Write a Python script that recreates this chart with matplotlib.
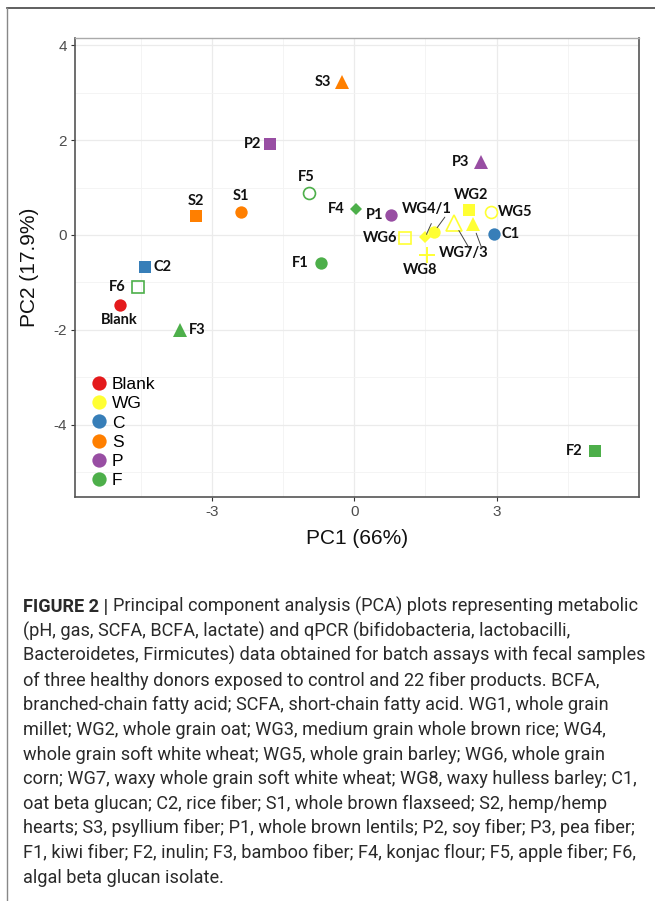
import matplotlib
matplotlib.use('Agg')
import matplotlib.pyplot as plt
from matplotlib.lines import Line2D

plt.rcParams['axes.unicode_minus'] = False

# PCA scores
names = ['Blank', 'WG1', 'WG2', 'WG3', 'WG4', 'WG5', 'WG6', 'WG7', 'WG8',
         'C1', 'C2', 'S1', 'S2', 'S3', 'P1', 'P2', 'P3',
         'F1', 'F2', 'F3', 'F4', 'F5', 'F6']
groups = ['Blank', 'WG', 'WG', 'WG', 'WG', 'WG', 'WG', 'WG', 'WG',
          'C', 'C', 'S', 'S', 'S', 'P', 'P', 'P',
          'F', 'F', 'F', 'F', 'F', 'F']
pc1 = [-4.94, 1.68, 2.41, 2.50, 1.50, 2.88, 1.08, 2.11, 1.53,
       2.95, -4.41, -2.38, -3.33, -0.25, 0.77, -1.77, 2.67,
       -0.70, 5.07, -3.66, 0.04, -0.95, -4.56]
pc2 = [-1.47, 0.06, 0.53, 0.23, -0.04, 0.48, -0.06, 0.26, -0.42,
       0.03, -0.67, 0.49, 0.39, 3.22, 0.43, 1.92, 1.54,
       -0.60, -4.56, -2.00, 0.55, 0.88, -1.10]
shape_ids = [1, 1, 2, 3, 4, 5, 6, 7, 8,
             1, 2, 1, 2, 3, 1, 2, 3,
             1, 2, 3, 4, 5, 6]

group_names = ['Blank', 'WG', 'C', 'S', 'P', 'F']
group_colors = {'Blank': '#E41A1C', 'WG': '#FFFF33', 'C': '#377EB8',
                'S': '#FF7F00', 'P': '#984EA3', 'F': '#4DAF4A'}

caption_bold = 'FIGURE 2 |'
caption_lines = [
    'Principal component analysis (PCA) plots representing metabolic',
    '(pH, gas, SCFA, BCFA, lactate) and qPCR (bifidobacteria, lactobacilli,',
    'Bacteroidetes, Firmicutes) data obtained for batch assays with fecal samples',
    'of three healthy donors exposed to control and 22 fiber products. BCFA,',
    'branched-chain fatty acid; SCFA, short-chain fatty acid. WG1, whole grain',
    'millet; WG2, whole grain oat; WG3, medium grain whole brown rice; WG4,',
    'whole grain soft white wheat; WG5, whole grain barley; WG6, whole grain',
    'corn; WG7, waxy whole grain soft white wheat; WG8, waxy hulless barley; C1,',
    'oat beta glucan; C2, rice fiber; S1, whole brown flaxseed; S2, hemp/hemp',
    'hearts; S3, psyllium fiber; P1, whole brown lentils; P2, soy fiber; P3, pea fiber;',
    'F1, kiwi fiber; F2, inulin; F3, bamboo fiber; F4, konjac flour; F5, apple fiber; F6,',
    'algal beta glucan isolate.',
]

# marker style per shape number (ggplot 16, 15, 17, 18, 1, 0, 2, 3)
shape_styles = {
    1: dict(marker='o', ms=8.9, open=False),
    2: dict(marker='s', ms=8.4, open=False),
    3: dict(marker='^', ms=10.5, open=False),
    4: dict(marker='D', ms=6.0, open=False),
    5: dict(marker='o', ms=8.6, open=True),
    6: dict(marker='s', ms=8.2, open=True),
    7: dict(marker='^', ms=11.5, open=True),
    8: dict(marker='+', ms=12, open=True),
}

# label offsets in points from the point
label_offsets = {
    'Blank': (0, -11), 'S3': (-14, 0), 'P2': (-12.5, 0), 'F5': (-2, 11.5),
    'S2': (0, 11.5), 'S1': (0, 11), 'C2': (13, 0), 'F1': (-15, 0),
    'F4': (-14, 0), 'P1': (-11.5, 0), 'P3': (-14.5, 0), 'WG2': (1.5, 10.5),
    'WG5': (17.5, 0), 'C1': (11.5, 0), 'WG6': (-18, 0), 'WG8': (-5, -11),
    'F6': (-15, 0), 'F3': (12, 0), 'F2': (-14.5, 0),
}

fig = plt.figure(figsize=(6.55, 9.01), dpi=100)
ax = fig.add_axes([0.1145, 0.4484, 0.861, 0.5094])

for i, name in enumerate(names):
    st = shape_styles[shape_ids[i]]
    col = group_colors[groups[i]]
    if st['marker'] == '+':
        ax.plot(pc1[i], pc2[i], marker='+', ms=st['ms'], color=col, mew=1.4,
                linestyle='none', zorder=3)
    elif st['open']:
        ax.plot(pc1[i], pc2[i], marker=st['marker'], ms=st['ms'], mfc='none',
                mec=col, mew=1.2, linestyle='none', zorder=3)
    else:
        ax.plot(pc1[i], pc2[i], marker=st['marker'], ms=st['ms'], color=col,
                mec=col, mew=0, linestyle='none', zorder=3)

lab_font = dict(family='Lato', fontweight='bold', fontsize=10.5, color='#111111')
for name, (dx, dy) in label_offsets.items():
    i = names.index(name)
    ax.annotate(name, (pc1[i], pc2[i]), xytext=(dx, dy), textcoords='offset points',
                ha='center', va='center', **lab_font)

# repelled labels with leader lines
line_kw = dict(arrowstyle='-', color='#444444', lw=0.7)
i4, i1 = names.index('WG4'), names.index('WG1')
ax.annotate('WG4/1', (pc1[i4], pc2[i4]), xytext=(1, 20), textcoords='offset points',
            ha='center', va='center', **lab_font)
ax.annotate('', (pc1[i4], pc2[i4]), xytext=(4.3, 9.6), textcoords='offset points',
            arrowprops=dict(shrinkA=0, shrinkB=2, **line_kw))
ax.annotate('', (pc1[i1], pc2[i1]), xytext=(7.9, 10.8), textcoords='offset points',
            arrowprops=dict(shrinkA=0, shrinkB=4, **line_kw))
i7, i3 = names.index('WG7'), names.index('WG3')
ax.annotate('WG7/3', (pc1[i7], pc2[i7]), xytext=(6.7, -22), textcoords='offset points',
            ha='center', va='center', **lab_font)
ax.annotate('', (pc1[i7], pc2[i7]), xytext=(11.5, -19.7), textcoords='offset points',
            arrowprops=dict(shrinkA=0, shrinkB=6.5, **line_kw))
ax.annotate('', (pc1[i3], pc2[i3]), xytext=(6.5, -17.5), textcoords='offset points',
            arrowprops=dict(shrinkA=0, shrinkB=7, **line_kw))

ax.set_xlim(-5.88, 6.0)
ax.set_ylim(-5.52, 4.15)
ax.set_xticks([-3, 0, 3])
ax.set_yticks([-4, -2, 0, 2, 4])
ax.set_xticks([-4.5, -1.5, 1.5, 4.5], minor=True)
ax.set_yticks([-5, -3, -1, 1, 3], minor=True)
ax.grid(which='major', color='#EBEBEB', lw=0.9)
ax.grid(which='minor', color='#F3F3F3', lw=0.6)
ax.set_axisbelow(True)
ax.tick_params(which='minor', length=0)
ax.tick_params(which='major', length=3, width=0.8, color='#333333',
               labelcolor='#4D4D4D', labelsize=11, pad=3)
for lab in ax.get_xticklabels() + ax.get_yticklabels():
    lab.set_family('Liberation Sans')
for side in ['left', 'bottom', 'right']:
    ax.spines[side].set_color('#555555')
    ax.spines[side].set_linewidth(1.2)
ax.spines['top'].set_color('#AAAAAA')
ax.spines['top'].set_linewidth(1.0)

ax.set_xlabel('PC1 (66%)', fontsize=15, family='Liberation Sans', color='#111111')
ax.set_ylabel('PC2 (17.9%)', fontsize=15, family='Liberation Sans', color='#111111')
ax.xaxis.set_label_coords(0.5, -0.0915)
ax.xaxis.label.set_verticalalignment('center')
ax.yaxis.set_label_coords(-0.0798, 0.5)
ax.yaxis.label.set_verticalalignment('center')

handles = [Line2D([], [], marker='o', linestyle='none', ms=10.3,
                  color=group_colors[g], mew=0) for g in group_names]
ax.legend(handles, group_names, loc='upper left', bbox_to_anchor=(0.027, 0.262),
          frameon=False, borderpad=0, borderaxespad=0, labelspacing=0.24,
          handlelength=1.0, handletextpad=0.25,
          prop=dict(family='Liberation Sans', size=12.5))

# figure frame
fig.add_artist(Line2D([7 / 655, 1], [1 - 8 / 901, 1 - 8 / 901],
                      transform=fig.transFigure, color='#444444', lw=1.2))
fig.add_artist(Line2D([7 / 655, 7 / 655], [0, 1 - 8 / 901],
                      transform=fig.transFigure, color='#888888', lw=1.0))

# caption, fitted to the width of the first line
renderer = fig.canvas.get_renderer()
cap_color = '#2A2A2A'
x0 = 23 / 655
target_w = 614
fs = 12
tb = fig.text(x0, 0, caption_bold + ' ', fontsize=fs, fontweight='bold', family='Roboto')
tr = fig.text(0, 0, caption_lines[0], fontsize=fs, family='Roboto')
w = tb.get_window_extent(renderer).width + tr.get_window_extent(renderer).width
tb.remove()
tr.remove()
fs = fs * target_w / w

y_first = 1 - 612 / 901
dy = 24.6 / 901
tb = fig.text(x0, y_first, caption_bold + ' ', fontsize=fs, fontweight='bold',
              family='Roboto', color=cap_color, va='baseline')
bw = tb.get_window_extent(renderer).width / 655
for k, line in enumerate(caption_lines):
    xs = x0 + bw if k == 0 else x0
    fig.text(xs, y_first - k * dy, line, fontsize=fs, family='Roboto',
             color=cap_color, va='baseline')

fig.savefig('out.png', dpi=100)
